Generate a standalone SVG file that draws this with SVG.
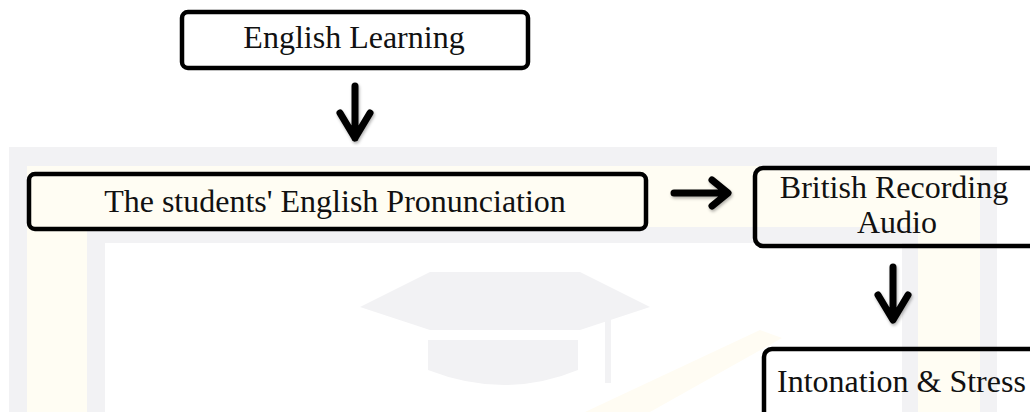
<svg xmlns="http://www.w3.org/2000/svg" width="1030" height="412" viewBox="0 0 1030 412">
  <style>
    .box { fill: none; stroke: #000; stroke-width: 4.5; }
    .lbl { font-family: "Liberation Serif", "Times New Roman", serif; font-size: 32px; fill: #111; }
    .arr { fill: none; stroke: #000; stroke-width: 7; stroke-linecap: round; stroke-linejoin: round; }
    .wm-gray { fill: #f2f2f4; }
    .wm-cream { fill: #fffdf3; }
  </style>
  <defs>
    <filter id="shadow" x="-50%" y="-50%" width="200%" height="200%">
      <feDropShadow dx="1" dy="2" stdDeviation="1.5" flood-color="#000" flood-opacity="0.3"/>
    </filter>
  </defs>
  <rect width="1030" height="412" fill="#fff"/>
  <g id="watermark">
    <rect class="wm-gray" x="9" y="147" width="988" height="270"/>
    <rect class="wm-cream" x="27" y="166" width="953" height="260"/>
    <rect class="wm-gray" x="87" y="227" width="831" height="200"/>
    <rect x="105" y="243" width="797" height="200" fill="#fff"/>
    <polygon class="wm-gray" points="360,307 430,272 580,272 650,307 580,330 430,330"/>
    <path class="wm-gray" d="M428,340 L578,340 L578,370 Q505,400 428,370 Z"/>
    <rect class="wm-gray" x="605" y="320" width="6" height="63"/>
    <polygon points="585,412 760,330 782,338 650,412" fill="#fffcf3"/>
  </g>
  <g id="node-english-learning">
    <rect class="box" x="182" y="12" width="346" height="56" rx="6"/>
    <text class="lbl" x="354" y="48" text-anchor="middle">English Learning</text>
  </g>
  <g id="node-pronunciation">
    <rect class="box" x="29" y="174" width="617" height="55" rx="6"/>
    <text class="lbl" x="335" y="212" text-anchor="middle">The students' English Pronunciation</text>
  </g>
  <g id="node-british-audio">
    <rect class="box" x="755" y="168" width="300" height="78" rx="8"/>
    <text class="lbl" x="894" y="198" text-anchor="middle">British Recording</text>
    <text class="lbl" x="897" y="233" text-anchor="middle">Audio</text>
  </g>
  <g id="node-intonation">
    <rect class="box" x="764" y="349" width="300" height="100" rx="8"/>
    <text class="lbl" x="777" y="392">Intonation &amp; Stress</text>
  </g>
  <g id="connectors" filter="url(#shadow)">
    <path class="arr" d="M355,86 L355,138 M340,113 L355,138 L370,113"/>
    <path class="arr" d="M674,193 L727,193 M712,180 L728,193 L712,206"/>
    <path class="arr" d="M893,267 L893,319 M878,295 L893,320 L908,295"/>
  </g>
</svg>
